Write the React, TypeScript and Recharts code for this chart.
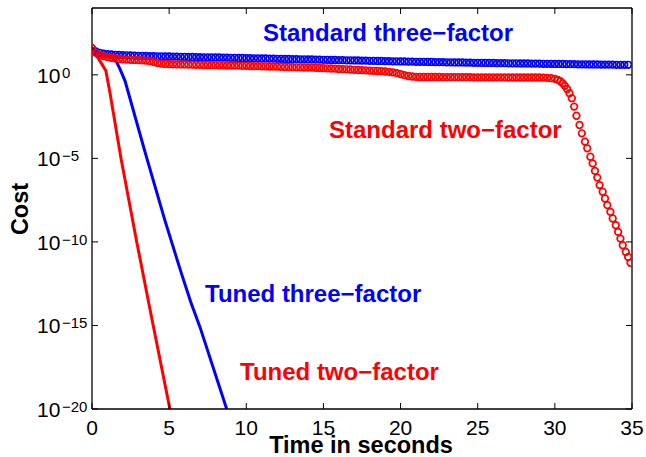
import { LineChart, Line, XAxis, YAxis } from "recharts";

const RED = "#ff0000";
const BLUE = "#0000ff";
const FONT = "'Liberation Sans', Arial, Helvetica, sans-serif";

const xTicks = [0, 5, 10, 15, 20, 25, 30, 35];
const yTickExps = [-20, -15, -10, -5, 0];

// [time in seconds, log10(cost)]
const tunedTwo: [number, number][] = [
  [0, 1.6], [0.13, 1.4], [0.6, 0.7], [0.9, 0.24], [1.17, -1.1],
  [1.88, -5.0], [2.9, -10.0], [3.88, -14.6], [5.05, -20],
];

const tunedThree: [number, number][] = [
  [0, 1.6], [0.5, 1.3], [1.0, 1.2], [1.45, 1.05], [1.56, 0.83], [1.81, 0.36], [2.14, -0.36],
  [3.43, -4.6], [4.72, -8.7], [5.8, -11.9], [6.4, -13.6], [7.0, -15.1], [8.73, -20],
];

const standardTwo: [number, number][] = [
  [0, 1.6], [0.25, 1.32], [0.5, 1.2], [0.75, 1.12], [1, 1.06], [1.25, 1.02], [1.5, 0.98], [1.75, 0.95],
  [2, 0.93], [2.25, 0.91], [2.5, 0.9], [2.75, 0.89], [3, 0.88], [3.25, 0.87], [3.5, 0.85], [3.75, 0.82],
  [4, 0.77], [4.25, 0.71], [4.5, 0.67], [4.75, 0.65], [5, 0.64], [5.25, 0.63], [5.5, 0.63], [5.75, 0.62],
  [6, 0.62], [6.25, 0.61], [6.5, 0.61], [6.75, 0.6], [7, 0.6], [7.25, 0.59], [7.5, 0.59], [7.75, 0.58],
  [8, 0.58], [8.25, 0.57], [8.5, 0.57], [8.75, 0.56], [9, 0.56], [9.25, 0.55], [9.5, 0.55], [9.75, 0.54],
  [10, 0.54], [10.25, 0.53], [10.5, 0.52], [10.75, 0.52], [11, 0.51], [11.25, 0.51], [11.5, 0.5], [11.75, 0.49],
  [12, 0.49], [12.25, 0.48], [12.5, 0.47], [12.75, 0.47], [13, 0.46], [13.25, 0.45], [13.5, 0.45], [13.75, 0.44],
  [14, 0.43], [14.25, 0.43], [14.5, 0.42], [14.75, 0.41], [15, 0.4], [15.25, 0.39], [15.5, 0.38], [15.75, 0.37],
  [16, 0.35], [16.25, 0.34], [16.5, 0.33], [16.75, 0.32], [17, 0.3], [17.25, 0.29], [17.5, 0.28], [17.75, 0.27],
  [18, 0.25], [18.25, 0.24], [18.5, 0.23], [18.75, 0.22], [19, 0.2], [19.25, 0.18], [19.5, 0.15], [19.75, 0.1],
  [20, 0.04], [20.25, -0.02], [20.5, -0.07], [20.75, -0.1], [21, -0.12], [21.25, -0.13], [21.5, -0.13], [21.75, -0.13],
  [22, -0.13], [22.25, -0.13], [22.5, -0.13], [22.75, -0.14], [23, -0.14], [23.25, -0.14], [23.5, -0.14], [23.75, -0.14],
  [24, -0.14], [24.25, -0.14], [24.5, -0.14], [24.75, -0.15], [25, -0.15], [25.25, -0.15], [25.5, -0.15], [25.75, -0.15],
  [26, -0.15], [26.25, -0.15], [26.5, -0.15], [26.75, -0.15], [27, -0.16], [27.25, -0.16], [27.5, -0.16], [27.75, -0.16],
  [28, -0.16], [28.25, -0.16], [28.5, -0.16], [28.75, -0.16], [29, -0.16], [29.25, -0.17], [29.5, -0.18], [29.75, -0.2],
  [30, -0.24], [30.2, -0.3], [30.35, -0.38], [30.5, -0.5], [30.65, -0.66], [30.8, -0.86], [30.95, -1.1], [31.1, -1.4],
  [31.25, -1.9], [31.4, -2.45], [31.6, -3.0], [31.75, -3.5], [31.95, -4.0], [32.1, -4.4], [32.3, -4.9], [32.45, -5.3],
  [32.6, -5.75], [32.75, -6.15], [32.9, -6.6], [33.1, -7.0], [33.25, -7.4], [33.4, -7.8], [33.6, -8.2], [33.75, -8.6],
  [33.95, -9.0], [34.1, -9.4], [34.25, -9.8], [34.4, -10.2], [34.6, -10.6], [34.75, -10.9], [34.9, -11.25],
];

const standardThree: [number, number][] = [
  [0, 1.6], [0.25, 1.4], [0.5, 1.32], [0.75, 1.27], [1, 1.24], [1.25, 1.22], [1.5, 1.2], [1.75, 1.19],
  [2, 1.18], [2.25, 1.17], [2.5, 1.16], [2.75, 1.15], [3, 1.14], [3.25, 1.14], [3.5, 1.13], [3.75, 1.12],
  [4, 1.12], [4.25, 1.11], [4.5, 1.11], [4.75, 1.1], [5, 1.1], [5.25, 1.09], [5.5, 1.09], [5.75, 1.08],
  [6, 1.08], [6.25, 1.07], [6.5, 1.07], [6.75, 1.06], [7, 1.06], [7.25, 1.05], [7.5, 1.05], [7.75, 1.05],
  [8, 1.04], [8.25, 1.04], [8.5, 1.03], [8.75, 1.03], [9, 1.02], [9.25, 1.02], [9.5, 1.01], [9.75, 1.01],
  [10, 1.0], [10.25, 1.0], [10.5, 0.99], [10.75, 0.99], [11, 0.98], [11.25, 0.98], [11.5, 0.97], [11.75, 0.97],
  [12, 0.96], [12.25, 0.96], [12.5, 0.95], [12.75, 0.95], [13, 0.94], [13.25, 0.94], [13.5, 0.93], [13.75, 0.93],
  [14, 0.92], [14.25, 0.92], [14.5, 0.91], [14.75, 0.91], [15, 0.9], [15.25, 0.9], [15.5, 0.89], [15.75, 0.89],
  [16, 0.88], [16.25, 0.88], [16.5, 0.87], [16.75, 0.87], [17, 0.86], [17.25, 0.86], [17.5, 0.85], [17.75, 0.85],
  [18, 0.84], [18.25, 0.84], [18.5, 0.83], [18.75, 0.83], [19, 0.82], [19.25, 0.82], [19.5, 0.81], [19.75, 0.81],
  [20, 0.8], [20.25, 0.8], [20.5, 0.79], [20.75, 0.79], [21, 0.78], [21.25, 0.78], [21.5, 0.78], [21.75, 0.77],
  [22, 0.77], [22.25, 0.76], [22.5, 0.76], [22.75, 0.76], [23, 0.75], [23.25, 0.75], [23.5, 0.74], [23.75, 0.74],
  [24, 0.74], [24.25, 0.73], [24.5, 0.73], [24.75, 0.72], [25, 0.72], [25.25, 0.72], [25.5, 0.71], [25.75, 0.71],
  [26, 0.71], [26.25, 0.7], [26.5, 0.7], [26.75, 0.7], [27, 0.69], [27.25, 0.69], [27.5, 0.69], [27.75, 0.68],
  [28, 0.68], [28.25, 0.68], [28.5, 0.67], [28.75, 0.67], [29, 0.67], [29.25, 0.66], [29.5, 0.66], [29.75, 0.66],
  [30, 0.65], [30.25, 0.65], [30.5, 0.65], [30.75, 0.64], [31, 0.64], [31.25, 0.64], [31.5, 0.63], [31.75, 0.63],
  [32, 0.63], [32.25, 0.62], [32.5, 0.62], [32.75, 0.62], [33, 0.61], [33.25, 0.61], [33.5, 0.61], [33.75, 0.61],
  [34, 0.6], [34.25, 0.6], [34.5, 0.6], [34.75, 0.6],
];

const rows = (pts: [number, number][]) => pts.map(([t, e]) => ({ t, cost: Math.pow(10, e) }));

const W = 646;
const H = 457;
const TICK = 6;

function BottomTick({ x, y, payload }: any) {
  return (
    <g>
      <line x1={x} y1={y} x2={x} y2={y - TICK} stroke="#000" strokeWidth={1} />
      <text x={x} y={y + 26} textAnchor="middle" fontSize={21} fontFamily={FONT} fill="#000">
        {payload.value}
      </text>
    </g>
  );
}

function TopTick({ x, y }: any) {
  return <line x1={x} y1={y} x2={x} y2={y + TICK} stroke="#000" strokeWidth={1} />;
}

function LeftTick({ x, y, payload }: any) {
  const exp = Math.round(Math.log10(payload.value));
  return (
    <g>
      <line x1={x} y1={y} x2={x + TICK} y2={y} stroke="#000" strokeWidth={1} />
      <text x={37} y={y + 8} fontSize={21} fontFamily={FONT} fill="#000">10</text>
      <text x={62} y={y + 3} fontSize={15} fontFamily={FONT} fill="#000">
        {exp < 0 ? `\u2212${-exp}` : `${exp}`}
      </text>
    </g>
  );
}

function RightTick({ x, y }: any) {
  return <line x1={x} y1={y} x2={x - TICK} y2={y} stroke="#000" strokeWidth={1} />;
}

const labels = [
  { text: "Standard three\u2212factor", x: 263, y: 41, color: BLUE },
  { text: "Standard two\u2212factor", x: 329, y: 138, color: RED },
  { text: "Tuned three\u2212factor", x: 205, y: 302, color: BLUE },
  { text: "Tuned two\u2212factor", x: 240, y: 380, color: RED },
];

export default function App() {
  const yTicks = yTickExps.map((e) => Math.pow(10, e));
  const axisLine = { stroke: "#000", strokeWidth: 1.3 };
  const circle = (c: string) => ({ r: 3.3, stroke: c, strokeWidth: 1.7, fill: "none" });
  return (
    <div style={{ position: "absolute", left: 0, top: 0, width: W, height: H, background: "#fff" }}>
      <LineChart width={W} height={H} margin={{ top: 0, right: 0, bottom: 0, left: 0 }}>
        <XAxis
          xAxisId="b"
          type="number"
          dataKey="t"
          domain={[0, 35]}
          ticks={xTicks}
          interval={0}
          allowDataOverflow
          height={48}
          tickSize={0}
          tickMargin={0}
          tickLine={false}
          axisLine={axisLine}
          tick={<BottomTick />}
        />
        <XAxis
          xAxisId="top"
          orientation="top"
          type="number"
          dataKey="t"
          domain={[0, 35]}
          ticks={xTicks}
          interval={0}
          allowDataOverflow
          height={8}
          tickSize={0}
          tickMargin={0}
          tickLine={false}
          axisLine={axisLine}
          tick={<TopTick />}
        />
        <YAxis
          yAxisId="l"
          type="number"
          dataKey="cost"
          scale="log"
          domain={[1e-20, 1e4]}
          ticks={yTicks}
          interval={0}
          allowDataOverflow
          width={92}
          tickSize={0}
          tickMargin={0}
          tickLine={false}
          axisLine={axisLine}
          tick={<LeftTick />}
        />
        <YAxis
          yAxisId="r"
          orientation="right"
          type="number"
          dataKey="cost"
          scale="log"
          domain={[1e-20, 1e4]}
          ticks={yTicks}
          interval={0}
          allowDataOverflow
          width={14}
          tickSize={0}
          tickMargin={0}
          tickLine={false}
          axisLine={axisLine}
          tick={<RightTick />}
        />
        <Line
          xAxisId="b"
          yAxisId="l"
          data={rows(standardThree)}
          dataKey="cost"
          stroke="none"
          dot={circle(BLUE)}
          activeDot={false}
          isAnimationActive={false}
        />
        <Line
          xAxisId="b"
          yAxisId="l"
          data={rows(standardTwo)}
          dataKey="cost"
          stroke="none"
          dot={circle(RED)}
          activeDot={false}
          isAnimationActive={false}
        />
        <Line
          xAxisId="b"
          yAxisId="l"
          data={rows(tunedThree)}
          dataKey="cost"
          type="linear"
          stroke={BLUE}
          strokeWidth={3}
          dot={false}
          activeDot={false}
          isAnimationActive={false}
        />
        <Line
          xAxisId="b"
          yAxisId="l"
          data={rows(tunedTwo)}
          dataKey="cost"
          type="linear"
          stroke={RED}
          strokeWidth={3}
          dot={false}
          activeDot={false}
          isAnimationActive={false}
        />
      </LineChart>
      <svg
        width={W}
        height={H}
        style={{ position: "absolute", left: 0, top: 0, pointerEvents: "none" }}
      >
        {labels.map((l) => (
          <text key={l.text} x={l.x} y={l.y} fill={l.color} fontSize={24} fontWeight="bold" fontFamily={FONT}>
            {l.text}
          </text>
        ))}
        <text x={361} y={453} textAnchor="middle" fontSize={23.5} fontWeight="bold" fontFamily={FONT} fill="#000">
          Time in seconds
        </text>
        <text
          transform="translate(28,209) rotate(-90)"
          textAnchor="middle"
          fontSize={23.5}
          fontWeight="bold"
          fontFamily={FONT}
          fill="#000"
        >
          Cost
        </text>
      </svg>
    </div>
  );
}
